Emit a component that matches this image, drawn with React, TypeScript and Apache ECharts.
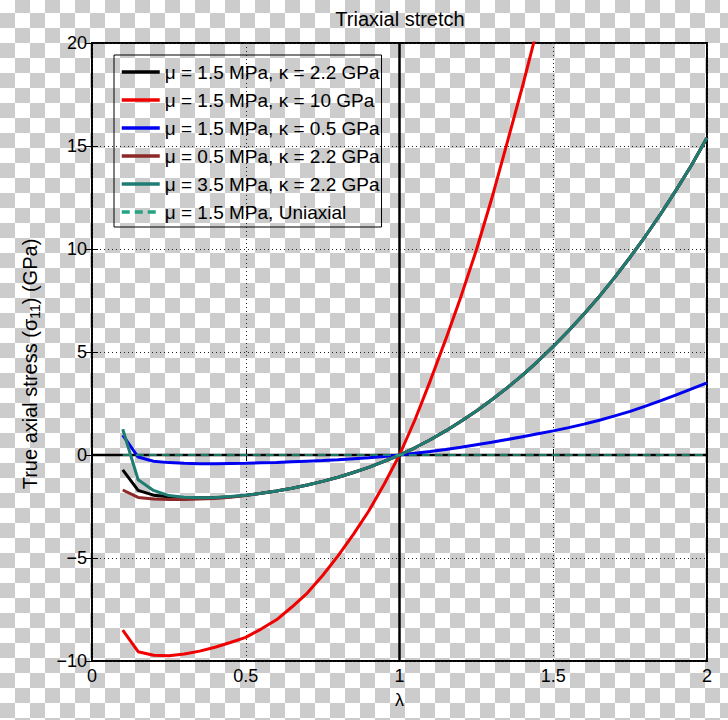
import React, { useEffect, useRef } from "react";
import * as echarts from "echarts";

const FONT = "Liberation Sans, Arial, Helvetica, sans-serif";

const lambdas = [
  0.1, 0.15, 0.2, 0.25, 0.3, 0.35, 0.4, 0.45, 0.5, 0.55, 0.6, 0.65, 0.7, 0.75,
  0.8, 0.85, 0.9, 0.95, 1.0, 1.05, 1.1, 1.15, 1.2, 1.25, 1.3, 1.35, 1.4, 1.45,
  1.5, 1.55, 1.6, 1.65, 1.7, 1.75, 1.8, 1.85, 1.9, 1.95, 2.0,
];

const blackMu15K22 = [
  -0.72, -1.72, -1.95, -2.03, -2.07, -2.08, -2.07, -2.03, -1.96, -1.86, -1.75,
  -1.61, -1.46, -1.28, -1.08, -0.85, -0.6, -0.31, 0, 0.35, 0.74, 1.17, 1.64,
  2.14, 2.68, 3.26, 3.88, 4.55, 5.27, 6.03, 6.84, 7.7, 8.62, 9.6, 10.63, 11.72,
  12.87, 14.08, 15.4,
];

const redMu15K10 = [
  -8.5, -9.55, -9.72, -9.74, -9.66, -9.52, -9.33, -9.1, -8.85, -8.45, -8.0,
  -7.38, -6.7, -5.85, -4.9, -3.85, -2.72, -1.42, 0, 1.7, 3.6, 5.6, 7.7, 9.95,
  12.45, 15.15, 17.9, 20.8,
];

const blueMu15K05 = [
  0.97, -0.1, -0.3, -0.37, -0.4, -0.42, -0.42, -0.41, -0.4, -0.38, -0.36, -0.33,
  -0.3, -0.27, -0.23, -0.18, -0.13, -0.07, 0, 0.08, 0.17, 0.27, 0.38, 0.5, 0.62,
  0.75, 0.89, 1.03, 1.17, 1.33, 1.5, 1.69, 1.9, 2.12, 2.37, 2.64, 2.92, 3.21,
  3.5,
];

const brownMu05K22 = [
  -1.7, -2.06, -2.14, -2.16, -2.16, -2.14, -2.11, -2.05, -1.97, -1.86, -1.75,
  -1.61, -1.46, -1.28, -1.08, -0.85, -0.6, -0.31, 0, 0.35, 0.74, 1.17, 1.64,
  2.14, 2.68, 3.26, 3.88, 4.55, 5.27, 6.03, 6.84, 7.7, 8.62, 9.6, 10.63, 11.72,
  12.87, 14.08, 15.4,
];

const tealMu35K22 = [
  1.25, -1.2, -1.72, -1.97, -2.05, -2.07, -2.06, -2.02, -1.95, -1.86, -1.75,
  -1.61, -1.46, -1.28, -1.08, -0.85, -0.6, -0.31, 0, 0.35, 0.74, 1.17, 1.64,
  2.14, 2.68, 3.26, 3.88, 4.55, 5.27, 6.03, 6.84, 7.7, 8.62, 9.6, 10.63, 11.72,
  12.87, 14.08, 15.4,
];

const uniaxialMu15 = [
  0, 0, 0, 0, 0, 0, 0, 0, 0, 0, 0, 0, 0, 0, 0, 0, 0, 0, 0, 0, 0, 0, 0, 0, 0, 0,
  0, 0, 0, 0, 0, 0, 0, 0, 0, 0, 0, 0, 0,
];

const seriesNames = [
  "μ = 1.5 MPa, κ = 2.2 GPa",
  "μ = 1.5 MPa, κ = 10 GPa",
  "μ = 1.5 MPa, κ = 0.5 GPa",
  "μ = 0.5 MPa, κ = 2.2 GPa",
  "μ = 3.5 MPa, κ = 2.2 GPa",
  "μ = 1.5 MPa, Uniaxial",
];
const seriesColors = ["#000000", "#f00000", "#0000f0", "#8c2828", "#1e7c72", "#26a283"];

const xTicks = { min: 0, max: 2, interval: 0.5 };
const yTicks = { min: -10, max: 20, interval: 5 };

const pairs = (ys: number[]) => ys.map((y, i) => [lambdas[i], y]);

export default function App() {
  const ref = useRef<HTMLDivElement>(null);
  useEffect(() => {
    document.body.style.margin = "0";
    const chart = echarts.init(ref.current!, null, { renderer: "svg" });
    const curve = (idx: number, ys: number[], extra: any = {}) => ({
      name: seriesNames[idx],
      type: "line",
      data: pairs(ys),
      symbol: "none",
      showSymbol: false,
      clip: true,
      lineStyle: { color: seriesColors[idx], width: 3 },
      itemStyle: { color: seriesColors[idx] },
      emphasis: { disabled: true },
      ...extra,
    });
    const option: any = {
      animation: false,
      backgroundColor: "transparent",
      textStyle: { fontFamily: FONT, color: "#000" },
      title: {
        text: "Triaxial stretch",
        left: 400,
        top: 9,
        textAlign: "center",
        padding: 0,
        textStyle: { fontSize: 20, fontWeight: "normal", color: "#000", fontFamily: FONT },
      },
      grid: {
        left: 92,
        right: 21,
        top: 43,
        bottom: 59,
        show: true,
        borderColor: "#000",
        borderWidth: 2,
        backgroundColor: "transparent",
      },
      legend: {
        orient: "vertical",
        left: 114,
        top: 55,
        data: seriesNames,
        itemWidth: 38,
        itemHeight: 14,
        itemGap: 8,
        padding: [7, 2, 5, 6],
        borderColor: "#000",
        borderWidth: 1,
        backgroundColor: "transparent",
        selectedMode: false,
        itemStyle: { opacity: 0 },
        lineStyle: { width: 3.5 },
        textStyle: { fontSize: 19, fontFamily: FONT, color: "#000", lineHeight: 20 },
      },
      xAxis: [
        {
          type: "value",
          ...xTicks,
          position: "bottom",
          name: "λ",
          nameLocation: "middle",
          nameGap: 30,
          nameTextStyle: { fontSize: 18, color: "#000", fontFamily: FONT },
          axisLine: { show: false },
          axisTick: { show: true, inside: true, length: 6, lineStyle: { color: "#000", width: 1 } },
          axisLabel: {
            margin: 6,
            fontSize: 18,
            color: "#000",
            fontFamily: FONT,
            formatter: (v: number) => String(v),
          },
          splitLine: { show: true, lineStyle: { color: "#222", type: [1, 3], width: 1 } },
        },
        {
          type: "value",
          ...xTicks,
          position: "top",
          axisLine: { show: false },
          axisTick: { show: true, inside: true, length: 6, lineStyle: { color: "#000", width: 1 } },
          axisLabel: { show: false },
          splitLine: { show: false },
        },
      ],
      yAxis: [
        {
          type: "value",
          ...yTicks,
          position: "left",
          name: "True axial stress (σ{sub|11}) (GPa)",
          nameLocation: "middle",
          nameGap: 50,
          nameRotate: 90,
          nameTextStyle: {
            fontSize: 20,
            color: "#000",
            fontFamily: FONT,
            padding: [0, 24, 0, 0],
            rich: {
              sub: { fontSize: 14, fontFamily: FONT, color: "#000", verticalAlign: "bottom", padding: [11, 0, 0, 0] },
            },
          },
          axisLine: { show: false },
          axisTick: { show: true, inside: true, length: 6, lineStyle: { color: "#000", width: 1 } },
          axisLabel: {
            margin: 5,
            fontSize: 18,
            color: "#000",
            fontFamily: FONT,
            formatter: (v: number) => (v < 0 ? "\u2212" + String(-v) : String(v)),
          },
          splitLine: { show: true, lineStyle: { color: "#222", type: [1, 3], width: 1 } },
        },
        {
          type: "value",
          ...yTicks,
          position: "right",
          axisLine: { show: false },
          axisTick: { show: true, inside: true, length: 6, lineStyle: { color: "#000", width: 1 } },
          axisLabel: { show: false },
          splitLine: { show: false },
        },
      ],
      series: [
        {
          name: "zeroH",
          type: "line",
          data: [
            [xTicks.min, 0],
            [xTicks.max, 0],
          ],
          symbol: "none",
          lineStyle: { color: "#000", width: 2.5 },
          emphasis: { disabled: true },
        },
        {
          name: "zeroV",
          type: "line",
          data: [
            [1, yTicks.min],
            [1, yTicks.max],
          ],
          symbol: "none",
          lineStyle: { color: "#000", width: 2.5 },
          emphasis: { disabled: true },
        },
        curve(0, blackMu15K22),
        curve(1, redMu15K10),
        curve(2, blueMu15K05),
        curve(3, brownMu05K22),
        curve(4, tealMu35K22),
        curve(5, uniaxialMu15, {
          lineStyle: { color: seriesColors[5], width: 1.5, type: [8, 5] },
        }),
      ],
    };
    chart.setOption(option);
    return () => chart.dispose();
  }, []);
  return (
    <div
      ref={ref}
      style={{
        width: 728,
        height: 720,
        backgroundColor: "#ffffff",
        backgroundImage:
          "conic-gradient(#cccccc 0 25%, #ffffff 0 50%, #cccccc 0 75%, #ffffff 0)",
        backgroundSize: "30px 30px",
        backgroundPosition: "0px -2px",
      }}
    />
  );
}
